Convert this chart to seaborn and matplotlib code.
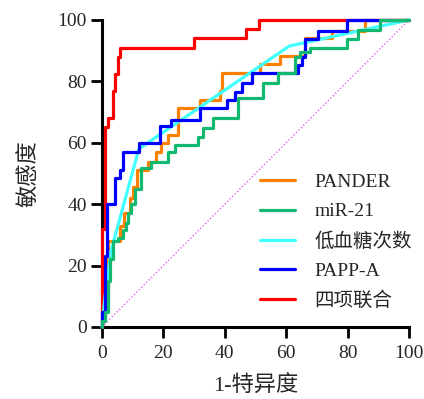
import numpy as np
import pandas as pd
import seaborn as sns
import matplotlib
matplotlib.use("Agg")
import matplotlib.pyplot as plt

# ROC vertices (1-specificity %, sensitivity %)
pander_x = [0, 0, 1, 1, 2, 2, 6, 6, 7, 7, 9, 9, 10, 10, 11.4, 11.4, 15, 15, 17.6, 17.6,
            19.2, 19.2, 21.5, 21.5, 24.8, 24.8, 32, 32, 38.4, 38.4, 39, 39, 51.5, 51.5,
            58, 58, 66, 66, 75, 75, 85.7, 85.7, 100]
pander_y = [0, 3, 3, 11, 11, 28, 28, 33, 33, 37, 37, 42, 42, 45.6, 45.6, 51, 51, 53.7, 53.7, 57,
            57, 60, 60, 62.5, 62.5, 71.3, 71.3, 74, 74, 77, 77, 82.7, 82.7, 85.5,
            85.5, 88.3, 88.3, 94, 94, 96.5, 96.5, 100, 100]

mir21_x = [0, 0, 1, 1, 2, 2, 2.6, 2.6, 3.6, 3.6, 5.2, 5.2, 6.8, 6.8, 7.8, 7.8, 8.5, 8.5,
           9.5, 9.5, 10.7, 10.7, 12.7, 12.7, 16, 16, 21.5, 21.5, 23.8, 23.8, 31.3, 31.3,
           33, 33, 36, 36, 44.3, 44.3, 52.4, 52.4, 57.3, 57.3, 62.9, 62.9, 64.5, 64.5,
           67.8, 67.8, 79.8, 79.8, 83.4, 83.4, 90.5, 90.5, 100]
mir21_y = [0, 2, 2, 5, 5, 15, 15, 22, 22, 28, 28, 29, 29, 31.6, 31.6, 34, 34, 37,
           37, 40, 40, 45, 45, 51.8, 51.8, 53.7, 53.7, 57, 57, 59.3, 59.3, 62,
           62, 64.8, 64.8, 68, 68, 74.6, 74.6, 79.5, 79.5, 82.7, 82.7, 88, 88, 89.5,
           89.5, 91, 91, 93.8, 93.8, 96.7, 96.7, 100, 100]

hypo_x = [0, 1, 3, 12, 61, 100]
hypo_y = [0, 10, 25, 58, 91.5, 100]

papp_x = [0, 0, 1, 1, 1.6, 1.6, 4.2, 4.2, 5.9, 5.9, 6.8, 6.8, 12, 12, 19, 19, 22.5, 22.5,
          32, 32, 40.7, 40.7, 43.3, 43.3, 45.6, 45.6, 48.8, 48.8, 64, 64, 65, 65, 66, 66,
          70.4, 70.4, 79.8, 79.8, 100]
papp_y = [0, 5, 5, 23, 23, 40, 40, 48.5, 48.5, 51, 51, 57, 57, 60, 60, 65.5, 65.5, 67.4,
          67.4, 71.3, 71.3, 74, 74, 76.5, 76.5, 79.5, 79.5, 82.7, 82.7, 85.3, 85.3, 88, 88, 93.8,
          93.8, 96.4, 96.4, 100, 100]

combo_x = [0, 0, 1, 1, 2, 2, 3.5, 3.5, 4.3, 4.3, 5.3, 5.3, 6, 6, 30, 30, 47, 47, 51, 51, 100]
combo_y = [0, 32, 32, 65, 65, 68, 68, 77, 77, 82.5, 82.5, 88, 88, 91, 91, 94, 94, 97, 97, 100, 100]

labels = ["PANDER", "miR-21", "低血糖次数", "PAPP-A", "四项联合"]
colors = ["#FF8000", "#10B870", "#40FFFF", "#0000FF", "#FF0000"]
curves = [(pander_x, pander_y), (mir21_x, mir21_y), (hypo_x, hypo_y),
          (papp_x, papp_y), (combo_x, combo_y)]

sns.set_style("ticks")
plt.rcParams["font.family"] = ["Liberation Serif", "Noto Sans CJK SC", "DejaVu Sans"]

fig = plt.figure(figsize=(4.24, 3.99), dpi=100)
ax = fig.add_axes([0.2406, 0.1805, 0.724, 0.7695])

# reference diagonal
ax.plot([0, 100], [0, 100], color="#D66BE0", lw=1.0, ls=(0, (1, 1.5)), zorder=2)

draw_order = [4, 0, 2, 3, 1]
for i in draw_order:
    x, y = curves[i]
    df = pd.DataFrame({"x": x, "y": y})
    sns.lineplot(data=df, x="x", y="y", sort=False, estimator=None, color=colors[i],
                 lw=2.3, label=labels[i], ax=ax, zorder=5 + draw_order.index(i))
for ln in ax.lines:
    ln.set_clip_on(False)

ax.set_xlim(0, 100)
ax.set_ylim(0, 100)
ax.set_xticks(range(0, 101, 20))
ax.set_yticks(range(0, 101, 20))
ax.tick_params(axis="both", length=8, width=2, labelsize=14, color="black", pad=3)
ax.tick_params(axis="x", pad=5)
for s in ["left", "bottom"]:
    ax.spines[s].set_linewidth(2.2)
    ax.spines[s].set_color("black")
sns.despine(ax=ax)
ax.set_xlabel("1-特异度", fontsize=16, labelpad=10)
ax.set_ylabel("敏感度", fontsize=16, labelpad=12)

handles, labs = ax.get_legend_handles_labels()
order = [labs.index(l) for l in labels]
ax.legend([handles[k] for k in order], labels, loc="upper left",
          bbox_to_anchor=(0.49, 0.525), frameon=False, fontsize=14,
          handlelength=1.8, handletextpad=1.0, labelspacing=0.6, borderaxespad=0)

fig.savefig("out.png", dpi=100)
